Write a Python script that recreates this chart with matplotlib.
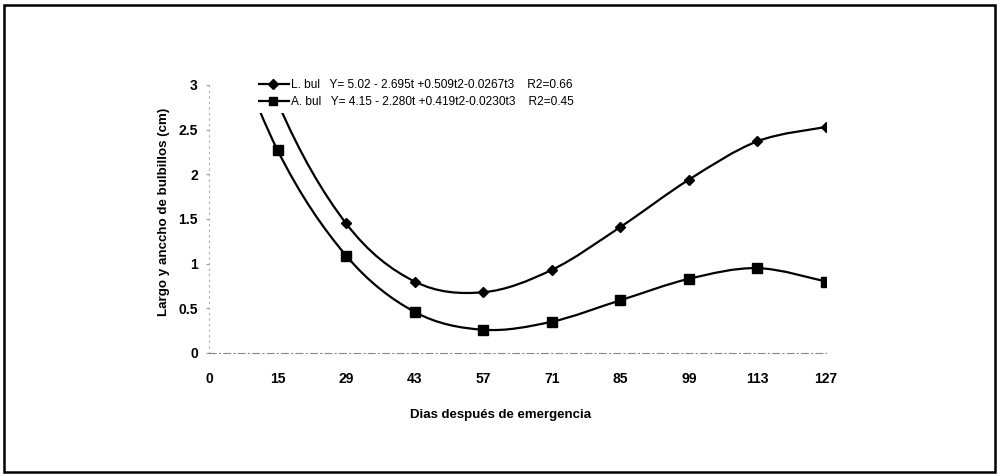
import numpy as np
import matplotlib
matplotlib.use("Agg")
import matplotlib.pyplot as plt
from matplotlib.path import Path
from matplotlib.patches import PathPatch, Rectangle
from matplotlib.lines import Line2D

plt.rcParams["font.family"] = ["Liberation Sans", "DejaVu Sans"]

# data (category 0 values lie above the axis top and are clipped)
days = ["0", "15", "29", "43", "57", "71", "85", "99", "113", "127"]
largo = [5.02, 2.81, 1.45, 0.80, 0.68, 0.93, 1.41, 1.94, 2.37, 2.53]
ancho = [4.15, 2.27, 1.09, 0.46, 0.26, 0.35, 0.59, 0.83, 0.95, 0.80]
labels = [
    "L. bul   Y= 5.02 - 2.695t +0.509t2-0.0267t3    R2=0.66",
    "A. bul   Y= 4.15 - 2.280t +0.419t2-0.0230t3    R2=0.45",
]


def smooth_path(xs, ys):
    """Excel-like smoothed line: cubic Bezier segments through the points."""
    pts = np.column_stack([xs, ys]).astype(float)
    n = len(pts)
    verts = [pts[0]]
    codes = [Path.MOVETO]
    for i in range(n - 1):
        p0 = pts[i - 1] if i > 0 else pts[i]
        p1, p2 = pts[i], pts[i + 1]
        p3 = pts[i + 2] if i + 2 < n else pts[i + 1]
        verts += [p1 + (p2 - p0) / 6, p2 - (p3 - p1) / 6, p2]
        codes += [Path.CURVE4] * 3
    return Path(verts, codes)


fig = plt.figure(figsize=(10, 4.74), dpi=100)
ax = fig.add_axes([0.209, 0.2553, 0.617, 0.5654])
x = np.arange(len(days))

for vals, mk, ms in ((largo, "D", 5.5), (ancho, "s", 6.5)):
    ax.add_patch(PathPatch(smooth_path(x, vals), facecolor="none",
                           edgecolor="black", lw=1.6, zorder=2))
    ax.plot(x, vals, ls="none", marker=mk, ms=ms, color="black", zorder=3)

ax.set_xlim(0, len(days) - 1)
ax.set_ylim(0, 3)
ax.set_xticks(x)
ax.set_xticklabels(days, fontweight="bold")
ax.set_yticks([0, 0.5, 1, 1.5, 2, 2.5, 3])
ax.set_yticklabels(["0", "0.5", "1", "1.5", "2", "2.5", "3"], fontweight="bold")
ax.tick_params(axis="y", length=2, color="#999999", pad=6, labelsize=10)
ax.tick_params(axis="x", length=0, pad=13.5, labelsize=10)

for side in ("top", "right"):
    ax.spines[side].set_visible(False)
ax.spines["left"].set_color("#aaaaaa")
ax.spines["left"].set_linestyle((0, (1, 4)))
ax.spines["left"].set_linewidth(0.8)
ax.spines["bottom"].set_color("#888888")
ax.spines["bottom"].set_linestyle((0, (6, 3, 1, 3)))
ax.spines["bottom"].set_linewidth(0.8)

ax.set_ylabel("Largo y anccho de bulbillos (cm)", fontsize=9.6, fontweight="bold")
ax.yaxis.set_label_coords(-0.064, 0.525)
fig.text(0.501, 1 - 415 / 474, "Dias después de emergencia", fontsize=9.5,
         fontweight="bold", ha="center", va="center")

handles = [
    Line2D([], [], color="black", lw=1.6, marker="D", ms=5),
    Line2D([], [], color="black", lw=1.6, marker="s", ms=6),
]
leg = ax.legend(handles, labels, loc="upper left",
                bbox_to_anchor=(252 / 1000, 1 - 74 / 474),
                bbox_transform=fig.transFigure, fontsize=8.6,
                frameon=True, facecolor="white", edgecolor="none",
                framealpha=1, fancybox=False, handlelength=2.7,
                handletextpad=0.15, labelspacing=0.45, borderpad=0.4,
                borderaxespad=0)
leg.set_zorder(5)
# the legend area in the original is wider and hides the clipped curve tops
fig.add_artist(Rectangle((238 / 1000, 1 - 112 / 474), 20 / 1000, 30 / 474,
                         transform=fig.transFigure, facecolor="white",
                         edgecolor="none", zorder=4))

fig.add_artist(Rectangle((0.004, 0.005), 0.991, 0.985, transform=fig.transFigure,
                         facecolor="none", edgecolor="black", lw=1.8))

fig.savefig("out.png", dpi=100, facecolor="white")
